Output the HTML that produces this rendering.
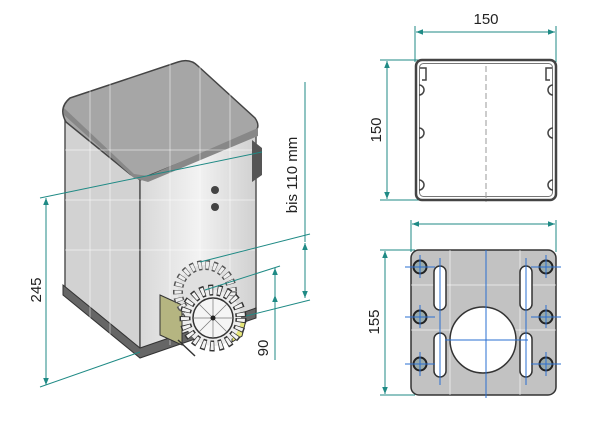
<!DOCTYPE html>
<html><head><style>html,body{margin:0;background:#fff;width:600px;height:426px;overflow:hidden}</style></head>
<body>
<svg width="600" height="426" viewBox="0 0 600 426" xmlns="http://www.w3.org/2000/svg" font-family="Liberation Sans, sans-serif">
<defs>
<marker id="a" viewBox="0 0 10 10" refX="10" refY="5" markerWidth="7" markerHeight="7" orient="auto-start-reverse"><path d="M0,1 L10,5 L0,9z" fill="#1f8a85"/></marker>
<linearGradient id="fr" x1="0" x2="1"><stop offset="0" stop-color="#d8d8d8"/><stop offset=".5" stop-color="#f2f2f2"/><stop offset="1" stop-color="#d0d0d0"/></linearGradient>
</defs>
<!-- body -->
<polygon points="65,115 140,180 140,352 65,290" fill="#d2d2d2" stroke="#555" stroke-width="1.5"/>
<polygon points="140,180 256,132 256,312 140,352" fill="url(#fr)" stroke="#555" stroke-width="1.5"/>
<path d="M63,285 L140,348 L256,308 L256,318 L140,358 L63,295z" fill="#666" stroke="#333"/>
<!-- lid -->
<path d="M70,98 L178,62 Q190,58 198,66 L255,118 Q262,128 252,134 L148,176 Q138,180 130,174 L66,122 Q58,108 70,98z" fill="#a6a6a6" stroke="#444" stroke-width="1.5"/>
<path d="M64,115 L134,178 L148,182 L258,136 L258,128 L148,176 L134,174 L64,108z" fill="#888"/>
<!-- grid -->
<g stroke="#fff" stroke-opacity=".5" stroke-width="1">
<line x1="90" y1="80" x2="90" y2="320"/><line x1="110" y1="70" x2="110" y2="335"/><line x1="170" y1="60" x2="170" y2="345"/><line x1="200" y1="60" x2="200" y2="335"/><line x1="230" y1="80" x2="230" y2="320"/>
<line x1="65" y1="150" x2="255" y2="150"/><line x1="65" y1="200" x2="255" y2="200"/><line x1="65" y1="250" x2="255" y2="250"/>
</g>
<path d="M252,140 L262,148 L262,175 L252,182z" fill="#555"/>
<circle cx="215" cy="190" r="4" fill="#444"/><circle cx="215" cy="207" r="4" fill="#444"/>
<!-- gear -->
<polygon points="160,295 182,305 182,345 160,335" fill="#b5b581" stroke="#333"/>
<polygon points="232,325 246,320 242,336 232,342" fill="#e6e67a" stroke="#333"/>
<circle cx="205" cy="292" r="27" fill="#e0e0e0" stroke="#555" stroke-width="10" stroke-dasharray="4 3.5"/>
<circle cx="205" cy="292" r="27" fill="none" stroke="#eee" stroke-width="7" stroke-dasharray="3 4.5" stroke-dashoffset="-0.5"/>
<circle cx="213" cy="318" r="28" fill="#ededed" stroke="#333" stroke-width="11" stroke-dasharray="4.5 4"/>
<circle cx="213" cy="318" r="28" fill="none" stroke="#f2f2f2" stroke-width="8" stroke-dasharray="3 5.5" stroke-dashoffset="-0.7"/>
<circle cx="213" cy="318" r="20" fill="#f5f5f5" stroke="#333" stroke-width="1.5"/>
<g stroke="#777" stroke-width=".7"><line x1="193" y1="318" x2="233" y2="318"/><line x1="213" y1="298" x2="213" y2="338"/><line x1="199" y1="304" x2="227" y2="332"/><line x1="227" y1="304" x2="199" y2="332"/></g>
<circle cx="213" cy="318" r="2.5" fill="#222"/>
<line x1="178" y1="340" x2="195" y2="356" stroke="#333" stroke-width="1.5"/>
<!-- left dims -->
<g stroke="#1f8a85" stroke-width="1" fill="none">
<line x1="40" y1="198" x2="262" y2="152"/><line x1="40" y1="387" x2="140" y2="352"/>
<line x1="46" y1="198" x2="46" y2="385" marker-start="url(#a)" marker-end="url(#a)"/>
<line x1="305" y1="82" x2="305" y2="242"/>
<line x1="200" y1="262" x2="310" y2="234"/><line x1="246" y1="316" x2="310" y2="300"/>
<line x1="305" y1="243" x2="305" y2="298" marker-start="url(#a)" marker-end="url(#a)"/>
<line x1="205" y1="290" x2="280" y2="266"/>
<line x1="275" y1="268" x2="275" y2="360" marker-start="url(#a)"/>
<line x1="275" y1="295" x2="275" y2="320" marker-start="url(#a)"/>
</g>
<g fill="#222" font-size="15">
<text transform="translate(41,290) rotate(-90)" text-anchor="middle">245</text>
<text transform="translate(297,175) rotate(-90)" text-anchor="middle">bis 110 mm</text>
<text transform="translate(268,348) rotate(-90)" text-anchor="middle">90</text>
<text x="486" y="24" text-anchor="middle">150</text>
<text transform="translate(381,130) rotate(-90)" text-anchor="middle">150</text>
<text transform="translate(379,322) rotate(-90)" text-anchor="middle">155</text>
</g>
<!-- top profile -->
<g stroke="#1f8a85" stroke-width="1" fill="none">
<line x1="415" y1="26" x2="415" y2="62"/><line x1="556" y1="26" x2="556" y2="62"/>
<line x1="416" y1="32" x2="555" y2="32" marker-start="url(#a)" marker-end="url(#a)"/>
<line x1="380" y1="60" x2="420" y2="60"/><line x1="380" y1="200" x2="420" y2="200"/>
<line x1="387" y1="61" x2="387" y2="199" marker-start="url(#a)" marker-end="url(#a)"/>
<line x1="411" y1="220" x2="411" y2="252"/><line x1="556" y1="220" x2="556" y2="252"/>
<line x1="412" y1="224" x2="555" y2="224" marker-start="url(#a)" marker-end="url(#a)"/>
<line x1="380" y1="250" x2="415" y2="250"/><line x1="380" y1="395" x2="415" y2="395"/>
<line x1="385" y1="251" x2="385" y2="394" marker-start="url(#a)" marker-end="url(#a)"/>
</g>
<rect x="416" y="60" width="140" height="140" rx="6" fill="none" stroke="#444" stroke-width="2.5"/>
<rect x="419.5" y="63.5" width="133" height="133" rx="4" fill="none" stroke="#777" stroke-width="1"/>
<g fill="none" stroke="#444" stroke-width="1.5">
<path d="M420,68 l6,0 0,12 -4,0"/><path d="M552,68 l-6,0 0,12 4,0"/>
<path d="M419,85 a5,5 0 1 1 0,10"/><path d="M419,128 a5,5 0 1 1 0,10"/><path d="M419,180 a5,5 0 1 1 0,10"/>
<path d="M553,85 a5,5 0 1 0 0,10"/><path d="M553,128 a5,5 0 1 0 0,10"/><path d="M553,180 a5,5 0 1 0 0,10"/>
</g>
<line x1="486" y1="66" x2="486" y2="202" stroke="#999" stroke-dasharray="6 3"/>
<!-- plate -->
<rect x="411" y="250" width="145" height="145" rx="8" fill="#c2c2c2" stroke="#333" stroke-width="1.5"/>
<g stroke="#fff" stroke-opacity=".6"><line x1="411" y1="285" x2="556" y2="285"/><line x1="411" y1="330" x2="556" y2="330"/><line x1="450" y1="250" x2="450" y2="395"/><line x1="520" y1="250" x2="520" y2="395"/></g>
<circle cx="483" cy="340" r="33" fill="#fff" stroke="#333" stroke-width="1.5"/>
<g fill="#fff" stroke="#333" stroke-width="1.5">
<rect x="434" y="266" width="12" height="44" rx="6"/><rect x="434" y="333" width="12" height="44" rx="6"/>
<rect x="520" y="266" width="12" height="44" rx="6"/><rect x="520" y="333" width="12" height="44" rx="6"/>
</g>
<g fill="#9aa" stroke="#222" stroke-width="2">
<circle cx="420" cy="267" r="6.5"/><circle cx="546" cy="267" r="6.5"/><circle cx="420" cy="317" r="6.5"/><circle cx="546" cy="317" r="6.5"/><circle cx="420" cy="364" r="6.5"/><circle cx="546" cy="364" r="6.5"/>
</g>
<g stroke="#2a6fd0" stroke-width="1">
<line x1="486" y1="250" x2="486" y2="398"/><line x1="445" y1="340" x2="528" y2="340"/>
<line x1="405" y1="267" x2="435" y2="267"/><line x1="531" y1="267" x2="561" y2="267"/>
<line x1="405" y1="317" x2="435" y2="317"/><line x1="531" y1="317" x2="561" y2="317"/>
<line x1="405" y1="364" x2="435" y2="364"/><line x1="531" y1="364" x2="561" y2="364"/>
<line x1="420" y1="255" x2="420" y2="278"/><line x1="546" y1="255" x2="546" y2="278"/>
<line x1="420" y1="305" x2="420" y2="328"/><line x1="546" y1="305" x2="546" y2="328"/>
<line x1="420" y1="352" x2="420" y2="376"/><line x1="546" y1="352" x2="546" y2="376"/>
<line x1="440" y1="258" x2="440" y2="385"/><line x1="526" y1="258" x2="526" y2="385"/>
</g>
</svg>
</body></html>
